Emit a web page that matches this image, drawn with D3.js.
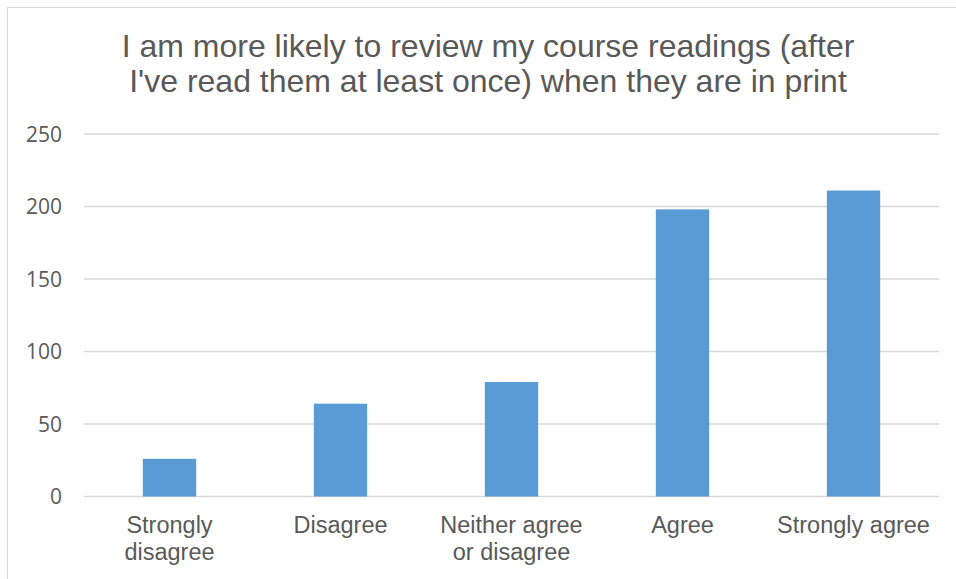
<!DOCTYPE html>
<html>
<head>
<meta charset="utf-8">
<script src="https://cdn.jsdelivr.net/npm/d3@7"></script>
<style>
  html, body { margin: 0; padding: 0; background: #fff; }
  svg { display: block; }
  text { font-family: "Liberation Sans", Arial, sans-serif; fill: #595959; }
</style>
</head>
<body>
<svg id="chart" width="956" height="579"></svg>
<script>
const categories = [["Strongly", "disagree"], ["Disagree"], ["Neither agree", "or disagree"], ["Agree"], ["Strongly agree"]];
const values = [26, 64, 79, 198, 211];
const yTicks = [0, 50, 100, 150, 200, 250];
const titleLines = ["I am more likely to review my course readings (after", "I've read them at least once) when they are in print"];

const svg = d3.select("#chart");
const W = 956, H = 579;
const margin = { left: 84, right: 956 - 939, top: 134, bottom: 579 - 496.5 };

// chart border
svg.append("rect").attr("x", 7.5).attr("y", 7.5).attr("width", W + 10).attr("height", H + 10)
  .attr("fill", "none").attr("stroke", "#d9d9d9").attr("stroke-width", 1);

const keys = categories.map(c => c.join(" "));
const x = d3.scaleBand().domain(keys).range([margin.left, W - margin.right])
  .paddingInner(0.688).paddingOuter(0.344);
const y = d3.scaleLinear().domain([0, 250]).range([H - margin.bottom, margin.top]);

// gridlines
svg.append("g").selectAll("line").data(yTicks).join("line")
  .attr("x1", margin.left).attr("x2", W - margin.right)
  .attr("y1", d => y(d)).attr("y2", d => y(d))
  .attr("stroke", "#d9d9d9").attr("stroke-width", d => d === 0 ? 1.5 : 1.3);

// y-axis labels
const yAxis = d3.axisLeft(y).tickValues(yTicks).tickSize(0).tickPadding(0);
const gy = svg.append("g").attr("transform", `translate(${margin.left - 22},0)`).call(yAxis);
gy.select(".domain").remove();
gy.selectAll("text").style("font-size", "21px").style("font-family", "'Open Sans', sans-serif")
  .attr("fill", "#595959").attr("dy", "0.35em");

// bars
svg.append("g").selectAll("rect").data(values).join("rect")
  .attr("x", (d, i) => x(keys[i]))
  .attr("width", x.bandwidth())
  .attr("y", d => y(d))
  .attr("height", d => y(0) - y(d))
  .attr("fill", "#5b9bd5");

// x labels
const xl = svg.append("g").selectAll("text").data(categories).join("text")
  .attr("x", (d, i) => x(keys[i]) + x.bandwidth() / 2)
  .attr("y", 533)
  .attr("text-anchor", "middle")
  .style("font-size", "23.5px");
xl.selectAll("tspan").data(d => d).join("tspan")
  .attr("x", function () { return this.parentNode.getAttribute("x"); })
  .attr("dy", (d, i) => i === 0 ? 0 : 27)
  .text(d => d);

// title
svg.append("text").attr("text-anchor", "middle").attr("x", 488).attr("y", 57)
  .style("font-size", "32px")
  .selectAll("tspan").data(titleLines).join("tspan")
  .attr("x", 488).attr("dy", (d, i) => i === 0 ? 0 : 35).text(d => d);
</script>
</body>
</html>
